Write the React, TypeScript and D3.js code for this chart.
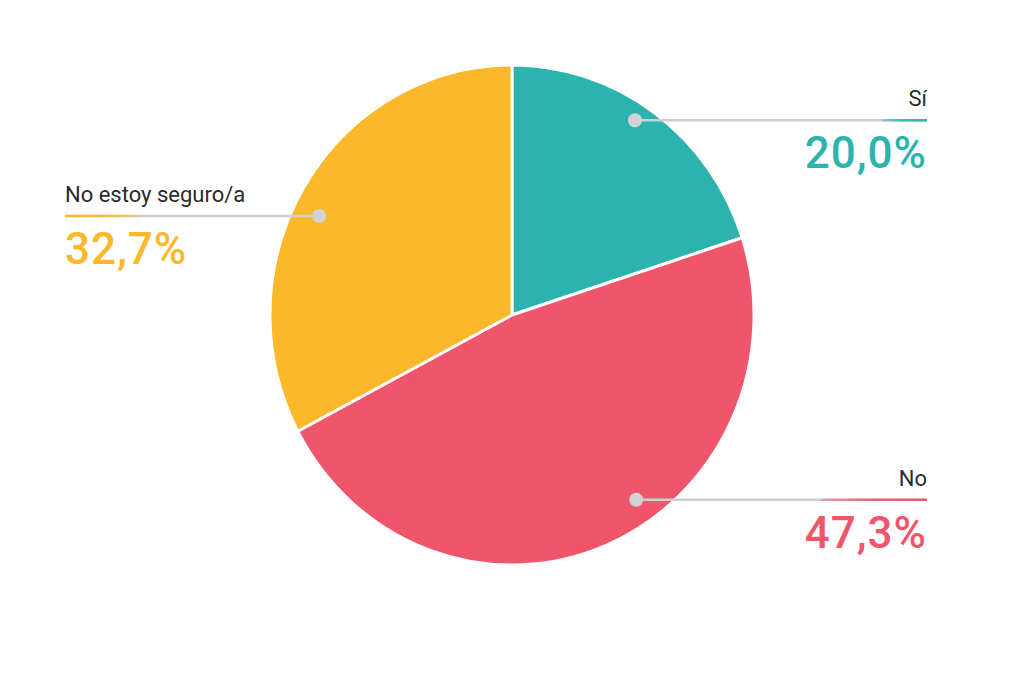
import React from 'react';
import * as d3 from 'd3';

// Survey answers, clockwise from 12 o'clock
const categories = ['Sí', 'No', 'No estoy seguro/a'];
const values = [20.0, 47.3, 32.7];
const colors = ['#2cb3ae', '#ef566b', '#fbb82b'];
// which side of the chart each label sits on
const sides: ('left' | 'right')[] = ['right', 'right', 'left'];
// where the leader dot sits inside each slice: share of the slice's sweep, share of the radius
const dotSweep = [0.46, 0.43, 0.46];
const dotReach = [0.93, 0.9, 0.89];

const WIDTH = 1024;
const HEIGHT = 683;
const CX = 512;
const CY = 315;
const RADIUS = 250;
const X_SQUEEZE = 0.968; // the reference pie is a touch narrower than tall
const LEFT_X = 65;
const RIGHT_X = 927;

const fmt = (v: number) => v.toFixed(1).replace('.', ',') + '%';

const App: React.FC = () => {
  const pie = d3
    .pie<number>()
    .sort(null)
    .value((d) => d);
  const arcs = pie(values);

  const arc = d3
    .arc<d3.PieArcDatum<number>>()
    .innerRadius(0)
    .outerRadius(RADIUS);

  // colored part of the leader line grows with the share
  const accent = d3.scaleLinear().domain([0, 100]).range([0, 225]);

  return (
    <>
      <style>{`body{margin:0;background:#fff}`}</style>
      <svg width={WIDTH} height={HEIGHT} style={{ display: 'block', fontFamily: 'Roboto, sans-serif' }}>
        <defs>
          {arcs.map((a, i) => (
            <linearGradient
              key={i}
              id={`grad-${i}`}
              x1={sides[i] === 'right' ? '0' : '1'}
              x2={sides[i] === 'right' ? '1' : '0'}
              y1="0"
              y2="0"
            >
              <stop offset="0" stopColor={colors[i]} stopOpacity={0.35} />
              <stop offset="0.5" stopColor={colors[i]} stopOpacity={0.9} />
              <stop offset="1" stopColor={colors[i]} stopOpacity={1} />
            </linearGradient>
          ))}
        </defs>
        <rect width={WIDTH} height={HEIGHT} fill="#fff" />
        <g transform={`translate(${CX},${CY}) scale(${X_SQUEEZE},1)`}>
          {arcs.map((a, i) => (
            <path
              key={i}
              d={arc(a) || ''}
              fill={colors[i]}
              stroke="#fff"
              strokeWidth={3}
              strokeLinejoin="round"
            />
          ))}
        </g>
        {arcs.map((a, i) => {
          const angle = a.startAngle + (a.endAngle - a.startAngle) * dotSweep[i];
          const [px, py] = d3.pointRadial(angle, RADIUS * dotReach[i]);
          const dotX = CX + px * X_SQUEEZE;
          const y = CY + py;
          const right = sides[i] === 'right';
          const endX = right ? RIGHT_X : LEFT_X;
          const len = accent(values[i]);
          const accStart = right ? endX - len : endX;
          return (
            <g key={i}>
              <line x1={dotX} x2={endX} y1={y} y2={y} stroke="#cfcfcf" strokeWidth={2.5} />
              <rect x={accStart} y={y - 1.25} width={len} height={2.5} fill={`url(#grad-${i})`} />
              <circle cx={dotX} cy={y} r={7} fill="#d3d3d5" />
              <text
                x={endX}
                y={y - 14}
                textAnchor={right ? 'end' : 'start'}
                fontSize={22}
                fill="#2b2b2b"
              >
                {categories[i]}
              </text>
              <text
                x={endX}
                y={y + 48}
                textAnchor={right ? 'end' : 'start'}
                fontSize={44}
                fontWeight={500}
                letterSpacing={1}
                fill={colors[i]}
              >
                {fmt(values[i])}
              </text>
            </g>
          );
        })}
      </svg>
    </>
  );
};

export default App;
